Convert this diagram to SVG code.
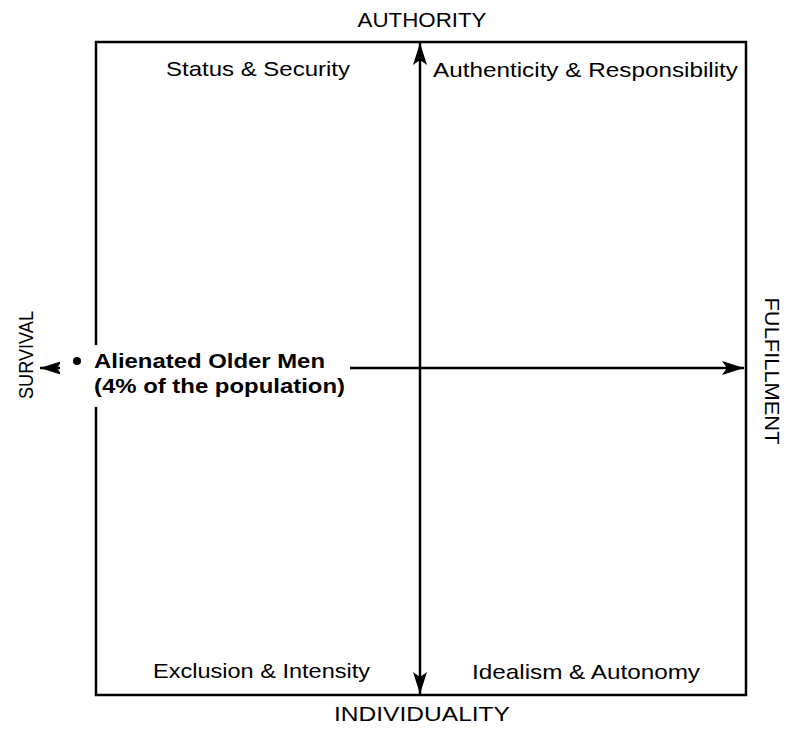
<svg xmlns="http://www.w3.org/2000/svg" width="794" height="732" viewBox="0 0 794 732">
  <style>
    .lbl { font-family: "Liberation Sans", "DejaVu Sans", sans-serif; font-size: 21px; fill: #000; }
    .axis-lbl { font-family: "Liberation Sans", "DejaVu Sans", sans-serif; font-size: 21px; fill: #000; }
    .bold { font-family: "Liberation Sans", "DejaVu Sans", sans-serif; font-size: 21px; font-weight: bold; fill: #000; }
    .line { stroke: #000; stroke-width: 2.5; fill: none; }
  </style>
  <defs>
    <marker id="arrow" viewBox="-2 -8 26 16" markerWidth="26" markerHeight="16" refX="22" refY="0" orient="auto" markerUnits="userSpaceOnUse">
      <path d="M22,0 L0,-7 L5,0 L0,7 Z" fill="#000"/>
    </marker>
  </defs>
  <rect width="794" height="732" fill="#fff"/>

  <!-- quadrant frame -->
  <g id="frame">
    <rect class="line" x="96" y="42" width="650" height="653"/>
  </g>

  <!-- axes -->
  <g id="connectors">
    <line class="line" x1="420" y1="368" x2="420" y2="43" marker-end="url(#arrow)"/>
    <line class="line" x1="420" y1="368" x2="420" y2="694" marker-end="url(#arrow)"/>
    <line class="line" x1="420" y1="368" x2="744" y2="368" marker-end="url(#arrow)"/>
    <line class="line" x1="420" y1="368" x2="40" y2="368" marker-end="url(#arrow)"/>
  </g>

  <!-- axis labels -->
  <g id="authority"><text class="axis-lbl" x="422" y="27" text-anchor="middle" textLength="129" lengthAdjust="spacingAndGlyphs">AUTHORITY</text></g>
  <g id="individuality"><text class="axis-lbl" x="422" y="721" text-anchor="middle" textLength="176" lengthAdjust="spacingAndGlyphs">INDIVIDUALITY</text></g>
  <g id="survival"><text class="axis-lbl" transform="translate(33,355) rotate(-90)" text-anchor="middle" textLength="88" lengthAdjust="spacingAndGlyphs">SURVIVAL</text></g>
  <g id="fulfillment"><text class="axis-lbl" transform="translate(765,371) rotate(90)" text-anchor="middle" textLength="147" lengthAdjust="spacingAndGlyphs">FULFILLMENT</text></g>

  <!-- quadrant labels -->
  <g id="status-security"><text class="lbl" x="166" y="76" textLength="184" lengthAdjust="spacingAndGlyphs">Status &amp; Security</text></g>
  <g id="authenticity-responsibility"><text class="lbl" x="433" y="77" textLength="305" lengthAdjust="spacingAndGlyphs">Authenticity &amp; Responsibility</text></g>
  <g id="exclusion-intensity"><text class="lbl" x="153" y="678" textLength="217" lengthAdjust="spacingAndGlyphs">Exclusion &amp; Intensity</text></g>
  <g id="idealism-autonomy"><text class="lbl" x="472" y="679" textLength="228" lengthAdjust="spacingAndGlyphs">Idealism &amp; Autonomy</text></g>

  <!-- segment marker -->
  <g id="alienated-older-men">
    <rect x="60" y="345" width="290" height="62" fill="#fff"/>
    <circle cx="77" cy="361" r="4" fill="#000"/>
    <text class="bold" x="94" y="368" textLength="231" lengthAdjust="spacingAndGlyphs">Alienated Older Men</text>
    <text class="bold" x="94" y="393" textLength="251" lengthAdjust="spacingAndGlyphs">(4% of the population)</text>
  </g>
</svg>
